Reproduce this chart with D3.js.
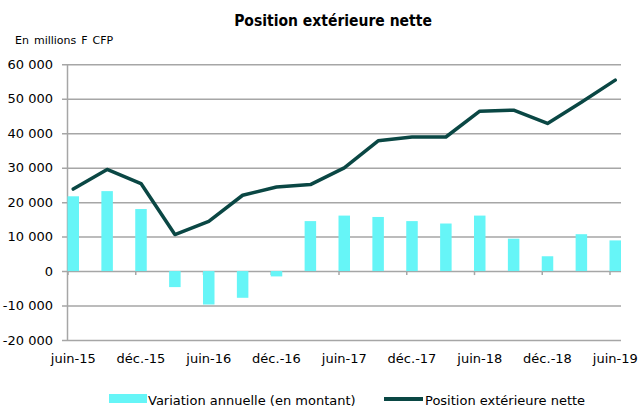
<!DOCTYPE html>
<html>
<head>
<meta charset="utf-8">
<script src="https://cdn.jsdelivr.net/npm/d3@7"></script>
<style>
  body { margin: 0; background: #fff; }
  text { font-family: "DejaVu Sans", sans-serif; fill: #000; }
</style>
</head>
<body>
<div class="chart"></div>
<script>
// Trimestres de juin-15 a juin-19
var periods = ["juin-15", "sept.-15", "déc.-15", "mars-16", "juin-16", "sept.-16", "déc.-16",
  "mars-17", "juin-17", "sept.-17", "déc.-17", "mars-18", "juin-18", "sept.-18", "déc.-18",
  "mars-19", "juin-19"];

// Variation annuelle (en montant), millions F CFP
var variation = [21700, 23200, 18000, -4650, -9700, -7750, -1550, 14500, 16100, 15700,
  14500, 13800, 16100, 9400, 4300, 10700, 8900];

// Position exterieure nette, millions F CFP
var position = [23800, 29500, 25400, 10600, 14450, 22000, 24400, 25100, 29950, 37800,
  38900, 38900, 46400, 46700, 42850, 49000, 55400];

var yTicks = [-20000, -10000, 0, 10000, 20000, 30000, 40000, 50000, 60000];
var labelIdx = [0, 2, 4, 6, 8, 10, 12, 14, 16];

var svgWidth = 640;
var svgHeight = 408;

var svg = d3.select(".chart")
  .append("svg")
  .attr("width", svgWidth)
  .attr("height", svgHeight);

// scales
var x = d3.scaleLinear().domain([0, periods.length - 1]).range([67.5, 609.5]);
var y = d3.scaleLinear().domain([-20000, 60000]).range([340, 64.3]);
var plotRight = 621;
var barW = 11.5;

var fr = d3.formatLocale({decimal: ",", thousands: " ", grouping: [3], currency: ["", ""], minus: "-"});
var fmt = fr.format(",d");

// gridlines + y labels
var yAxis = svg.append("g")
  .attr("transform", "translate(62,0)")
  .call(d3.axisLeft(y).tickValues(yTicks).tickSize(-(plotRight - 62)).tickPadding(9).tickFormat(fmt));
yAxis.select(".domain").remove();
yAxis.selectAll("line").attr("stroke", "#a6a6a6").attr("stroke-width", 1.5);
yAxis.selectAll("text")
  .style("font-family", "DejaVu Sans, sans-serif")
  .style("font-size", "13px")
  .attr("fill", "#000");

// vertical axis line
svg.append("line")
  .attr("x1", x(0)).attr("x2", x(0))
  .attr("y1", y(60000)).attr("y2", y(-20000))
  .attr("stroke", "#a6a6a6").attr("stroke-width", 1.5);

// x tick marks under the zero line
var xAxis = svg.append("g")
  .attr("transform", "translate(0," + y(0) + ")")
  .call(d3.axisBottom(x).tickValues(labelIdx).tickSize(4).tickFormat(""));
xAxis.select(".domain").remove();
xAxis.selectAll("line").attr("stroke", "#a6a6a6").attr("stroke-width", 1.5);

// bars
svg.append("g").selectAll("rect")
  .data(variation)
  .enter()
  .append("rect")
  .attr("x", function(d, i) { return x(i); })
  .attr("y", function(d) { return y(Math.max(d, 0)); })
  .attr("width", barW)
  .attr("height", function(d) { return Math.abs(y(d) - y(0)); })
  .attr("fill", "#66f5f7");

// line
var line = d3.line()
  .x(function(d, i) { return x(i) + barW / 2; })
  .y(function(d) { return y(d); });

svg.append("path")
  .datum(position)
  .attr("d", line)
  .attr("fill", "none")
  .attr("stroke", "#0a4744")
  .attr("stroke-width", 3.5)
  .attr("stroke-linejoin", "round")
  .attr("stroke-linecap", "round");

// x labels
svg.append("g").selectAll("text")
  .data(labelIdx)
  .enter()
  .append("text")
  .attr("x", function(i) { return x(i) + barW / 2; })
  .attr("y", 363)
  .attr("text-anchor", "middle")
  .style("font-size", "13px")
  .text(function(i) { return periods[i]; });

// title
svg.append("text")
  .attr("x", 333)
  .attr("y", 26)
  .attr("text-anchor", "middle")
  .style("font-family", "'DejaVu Sans Condensed', 'DejaVu Sans', sans-serif")
  .style("font-weight", "bold")
  .style("font-size", "15.5px")
  .text("Position extérieure nette");

// unit label
svg.append("text")
  .attr("x", 15)
  .attr("y", 44)
  .style("font-size", "11px")
  .style("word-spacing", "1.5px")
  .text("En millions F CFP");

// legend
var legend = svg.append("g");
legend.append("rect")
  .attr("x", 109).attr("y", 394)
  .attr("width", 38).attr("height", 9)
  .attr("fill", "#66f5f7");
legend.append("text")
  .attr("x", 148).attr("y", 405)
  .style("font-size", "13px")
  .text("Variation annuelle (en montant)");
legend.append("line")
  .attr("x1", 384).attr("x2", 423)
  .attr("y1", 399).attr("y2", 399)
  .attr("stroke", "#0a4744").attr("stroke-width", 4);
legend.append("text")
  .attr("x", 425).attr("y", 405)
  .style("font-size", "13px")
  .text("Position extérieure nette");
</script>
</body>
</html>
